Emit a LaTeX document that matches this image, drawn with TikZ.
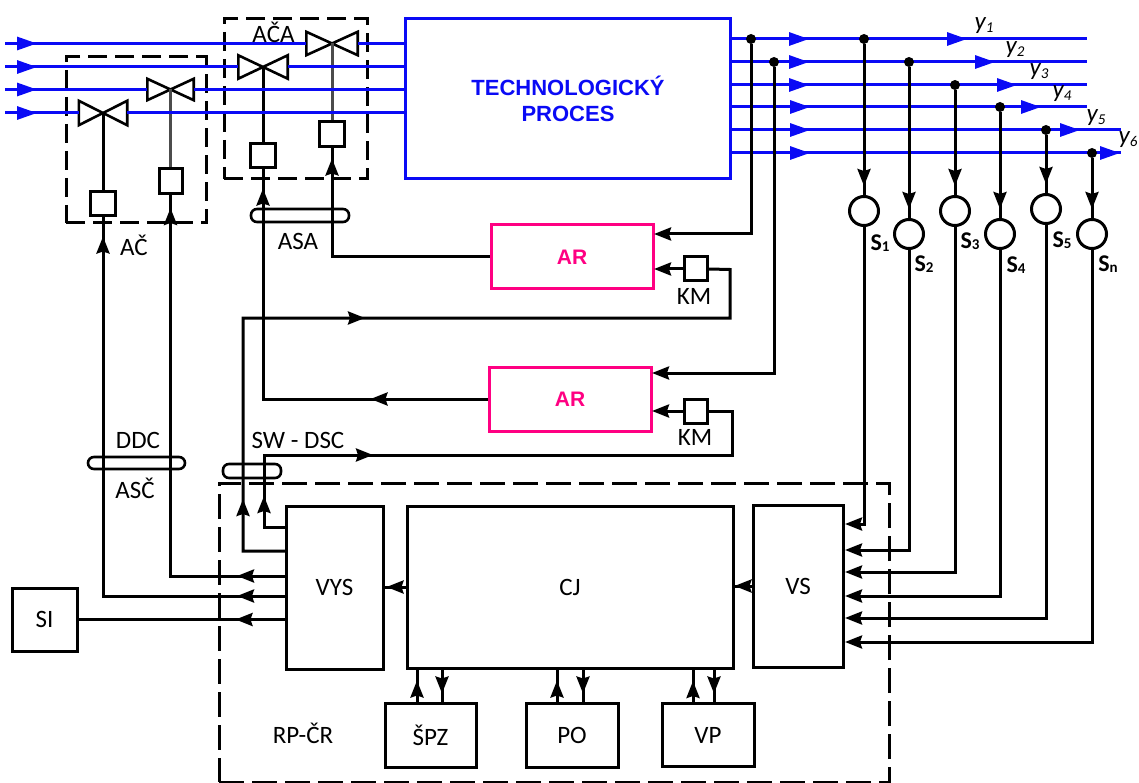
\documentclass[tikz,border=0pt]{standalone}
\usepackage{fontspec}
\setmainfont{Carlito}
\newfontfamily\arialfont{Liberation Sans}
\usetikzlibrary{arrows.meta,decorations.markings}
\definecolor{procblue}{RGB}{10,10,245}
\definecolor{arpink}{RGB}{255,0,130}
\tikzset{
  sigtip/.tip={Stealth[length=17pt,width=13pt,inset=2pt]},
  bluetip/.tip={Triangle[length=20pt,width=13pt]},
  sig/.style={line width=3pt,black},
  flow/.style={line width=3pt,procblue},
  tipat/.style={postaction={decorate,decoration={markings,mark=at position #1 with {\arrow{sigtip}}}}},
  btipat/.style={postaction={decorate,decoration={markings,mark=at position #1 with {\arrow{bluetip}}}}},
  block/.style={draw,line width=3pt,rectangle,inner sep=0pt,font=\fontsize{25}{28}\selectfont},
  dashbox/.style={draw,line width=3pt,rectangle,dash pattern=on 19pt off 8pt},
  arbox/.style={draw=arpink,line width=3pt,rectangle,inner sep=0pt,text=arpink,font=\arialfont\bfseries\fontsize{21}{24}\selectfont},
  bus/.style={draw,line width=2.6pt,rectangle,rounded corners=6pt,inner sep=0pt},
  txt/.style={inner sep=0pt,font=\fontsize{25}{28}\selectfont},
  ylab/.style={inner sep=0pt,font=\itshape\fontsize{25}{28}\selectfont},
  slab/.style={inner sep=0pt,font=\bfseries\fontsize{24}{28}\selectfont}
}
\newcommand{\block}[6]{\node[block,minimum width=#4,minimum height=#5] (#1) at (#2,#3) {#6};}
\newcommand{\valve}[5]{\node[inner sep=0pt,minimum width=#4,minimum height=#5] (#1) at (#2,#3) {};
  \draw[line width=2.6pt,fill=white,line join=miter] (#1.north west) -- (#1.south east) -- (#1.north east) -- (#1.south west) -- cycle;}
\newcommand{\sensor}[3]{\node[draw,circle,line width=3pt,fill=white,inner sep=0pt,minimum size=29] (#1) at (#2,#3) {};}
\newcommand{\tap}[3]{\node[circle,fill=black,inner sep=0pt,minimum size=10] (#1) at (#2,#3) {};}
\newcommand{\ylabel}[4]{\node[ylab] (#1) at (#2,#3) {y\lower3pt\hbox{\fontsize{15}{15}\selectfont #4}};}
\newcommand{\slabel}[4]{\node[slab] (#1) at (#2,#3) {S\lower1pt\hbox{\fontsize{15}{15}\selectfont #4}};}
\newcommand{\updown}[4]{\draw[sig,tipat=21pt] ([xshift=#3]#1.north) -- ([xshift=#3]#1.north |- #2.south);
  \draw[sig,tipat=24pt] ([xshift=#4]#1.north |- #2.south) -- ([xshift=#4]#1.north);}

\begin{document}
\begin{tikzpicture}[x=1pt,y=-1pt]
    \useasboundingbox (0,0) rectangle (1139,783);
    \node[dashbox,minimum width=140,minimum height=166] (AC) at (136,140) {};
    \node[dashbox,minimum width=143,minimum height=160] (ACA) at (295.5,99) {};
    \node[dashbox,dash pattern=on 25pt off 8pt,minimum width=670,minimum height=299] (RP) at (554,632.5) {};
    \node[draw=procblue,line width=3pt,inner sep=0pt,align=center,text=procblue,font=\arialfont\bfseries\fontsize{22}{26}\selectfont,minimum width=325,minimum height=160] (PROC) at (568,99) {TECHNOLOGICKÝ\\PROCES};

    % valves and actuators
    \valve{V1}{103}{113}{48}{24}  \valve{V2}{170.5}{89.5}{46}{21}
    \valve{V3}{263}{67}{49}{23}   \valve{V4}{332}{43.5}{51}{23}
    \block{P1}{103}{204}{25}{24}{}   \block{P2}{170.5}{181}{23}{25}{}
    \block{P3}{263}{156}{25}{24}{}   \block{P4}{332}{134.5}{25}{25}{}
    \draw[sig] (V1.center) -- (P1.north);
    \draw[sig,black!70] (V2.center) -- (P2.north);
    \draw[sig] (V3.center) -- (P3.north);
    \draw[sig,black!70] (V4.center) -- (P4.north);

    % process inputs
    \coordinate (in1) at (5,113); \coordinate (in2) at (5,89.5);
    \coordinate (in3) at (5,67);  \coordinate (in4) at (5,43.5);
    \draw[flow,btipat=32pt] (in1) -- (V1.west); \draw[flow] (V1.east) -- (V1.east -| PROC.west);
    \draw[flow,btipat=32pt] (in2) -- (V2.west); \draw[flow] (V2.east) -- (V2.east -| PROC.west);
    \draw[flow,btipat=32pt] (in3) -- (V3.west); \draw[flow] (V3.east) -- (V3.east -| PROC.west);
    \draw[flow,btipat=32pt] (in4) -- (V4.west); \draw[flow] (V4.east) -- (V4.east -| PROC.west);

    % process outputs
    \coordinate (o1) at (731,39);  \coordinate (e1) at (1087,39);
    \coordinate (o2) at (731,62);  \coordinate (e2) at (1087,62);
    \coordinate (o3) at (731,85);  \coordinate (e3) at (1087,85);
    \coordinate (o4) at (731,107); \coordinate (e4) at (1087,107);
    \coordinate (o5) at (731,130); \coordinate (e5) at (1121,130);
    \coordinate (o6) at (731,153); \coordinate (e6) at (1121,153);
    \draw[flow,btipat=78pt,btipat=236pt] (o1) -- (e1);
    \draw[flow,btipat=78pt,btipat=264pt] (o2) -- (e2);
    \draw[flow,btipat=78pt,btipat=286pt] (o3) -- (e3);
    \draw[flow,btipat=79pt,btipat=310pt] (o4) -- (e4);
    \draw[flow,btipat=79pt,btipat=349pt] (o5) -- (e5);
    \draw[flow,btipat=79pt,btipat=389pt] (o6) -- (e6);

    % main blocks
    \block{VYS}{334.5}{587.5}{97}{163}{VYS}
    \block{CJ}{570}{587}{326}{162}{CJ}
    \block{VS}{798}{586}{90}{162}{VS}
    \block{SI}{44.5}{619.5}{65}{63}{SI}
    \block{SPZ}{430.5}{735}{91}{64}{ŠPZ}
    \block{PO}{572}{735}{92}{64}{PO}
    \block{VP}{708}{735}{92}{63}{VP}
    \node[arbox,minimum width=162,minimum height=64] (AR1) at (572,257) {AR};
    \node[arbox,minimum width=162,minimum height=64] (AR2) at (570,399) {AR};
    \block{KM1}{695.5}{269}{23}{24}{}
    \block{KM2}{695.5}{411}{23}{24}{}

    % sensors
    \tap{D1}{864}{39} \tap{D2}{909}{62} \tap{D3}{955}{85}
    \tap{D4}{1000}{107} \tap{D5}{1046}{130} \tap{D6}{1092}{153}
    \sensor{S1}{864}{211} \sensor{S2}{909}{234} \sensor{S3}{955}{211}
    \sensor{S4}{1000}{234} \sensor{S5}{1046}{209} \sensor{S6}{1092}{234}
    \draw[sig,tipat=-9pt] (D1) -- (S1); \draw[sig,tipat=-9pt] (D2) -- (S2);
    \draw[sig,tipat=-9pt] (D3) -- (S3); \draw[sig,tipat=-9pt] (D4) -- (S4);
    \draw[sig,tipat=-9pt] (D5) -- (S5); \draw[sig,tipat=-9pt] (D6) -- (S6);
    \coordinate (vs1) at (845,524); \coordinate (vs2) at (845,550);
    \coordinate (vs3) at (845,572); \coordinate (vs4) at (845,596);
    \coordinate (vs5) at (845,618); \coordinate (vs6) at (845,642);
    \draw[sig,-{sigtip}] (S1) |- (vs1); \draw[sig,-{sigtip}] (S2) |- (vs2);
    \draw[sig,-{sigtip}] (S3) |- (vs3); \draw[sig,-{sigtip}] (S4) |- (vs4);
    \draw[sig,-{sigtip}] (S5) |- (vs5); \draw[sig,-{sigtip}] (S6) |- (vs6);

    % controllers
    \tap{T1}{751}{39} \tap{T2}{774}{62}
    \coordinate (ar1) at (654,234); \coordinate (ar2) at (652,373);
    \draw[sig,-{sigtip}] (T1) |- (ar1);
    \draw[sig,-{sigtip}] (T2) |- (ar2);
    \coordinate (km1) at (654,269); \coordinate (km2) at (652,411);
    \draw[sig,-{sigtip}] (KM1) -- (km1);
    \draw[sig,-{sigtip}] (KM2) -- (km2);
    \draw[sig,tipat=-10pt] (AR1.west) -| (P4.south);
    \draw[sig,tipat=117pt,tipat=-19pt] (AR2.west) -| (P3.south);

    % VYS outputs
    \coordinate (y1a) at (286,551); \coordinate (y1b) at (243,318); \coordinate (y1c) at (730,269.5);
    \coordinate (y2a) at (286,527); \coordinate (y2b) at (264,455); \coordinate (y2c) at (732,411);
    \draw[sig,tipat=95pt,tipat=398pt] (y1a) -| (y1b) -| (y1c) -- (KM1.east);
    \draw[sig,tipat=53pt,tipat=203pt] (y2a) -| (y2b) -| (y2c) -- (KM2.east);
    \coordinate (y3a) at (286,576); \coordinate (y4a) at (286,596);
    \draw[sig,tipat=49pt,tipat=-13pt] (y3a) -| (P2.south);
    \draw[sig,tipat=49pt,tipat=-19pt] (y4a) -| (P1.south);
    \draw[sig,tipat=49pt] (VYS.west |- SI.east) -- (SI.east);
    \draw[sig,tipat=19pt] (CJ.west) -- (CJ.west -| VYS.east);
    \draw[sig,tipat=17pt] (VS.west) -- (VS.west -| CJ.east);
    \updown{SPZ}{CJ}{-13.5}{11.5}
    \updown{PO}{CJ}{-15}{11}
    \updown{VP}{CJ}{-15}{6}

    % buses
    \node[bus,minimum width=98,minimum height=13] (ASAbus) at (300,215.5) {};
    \node[bus,minimum width=97,minimum height=12] (DDCbus) at (136.5,463) {};
    \node[bus,minimum width=58,minimum height=14] (SWbus) at (252,471) {};

    % labels
    \node[txt] (ACAl) at (273.5,32) {AČA};
    \node[txt] (ACl) at (134,245) {AČ};
    \node[txt] (ASAl) at (298,241) {ASA};
    \node[txt] (DDCl) at (138,440) {DDC};
    \node[txt] (ASCl) at (135,488) {ASČ};
    \node[txt] (SWl) at (298,440) {SW - DSC};
    \node[txt] (KMa) at (694,296) {KM};
    \node[txt] (KMb) at (695,437) {KM};
    \node[txt] (RPl) at (303,733) {RP-ČR};
    \ylabel{Y1}{984}{26}{1} \ylabel{Y2}{1015}{50}{2} \ylabel{Y3}{1039}{72}{3}
    \ylabel{Y4}{1062}{94}{4} \ylabel{Y5}{1096}{118}{5} \ylabel{Y6}{1128}{140}{6}
    \slabel{L1}{880}{243}{1} \slabel{L2}{924}{264}{2} \slabel{L3}{970}{241}{3}
    \slabel{L4}{1016}{265}{4} \slabel{L5}{1062}{240}{5} \slabel{L6}{1108}{264}{n}
\end{tikzpicture}
\end{document}
